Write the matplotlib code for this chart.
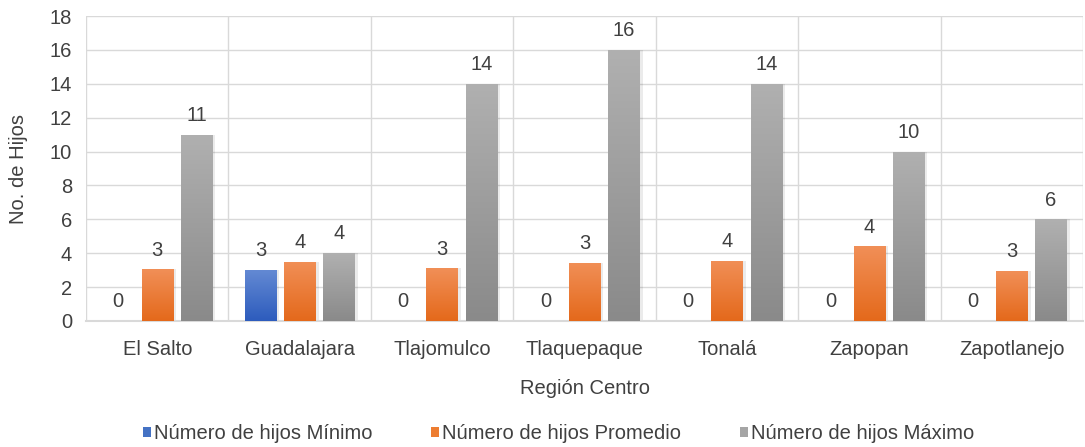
import matplotlib.pyplot as plt
import numpy as np
from matplotlib.colors import LinearSegmentedColormap

plt.rcParams['font.family'] = ['Liberation Sans', 'DejaVu Sans']

regiones = ["El Salto", "Guadalajara", "Tlajomulco", "Tlaquepaque", "Tonalá", "Zapopan", "Zapotlanejo"]
minimo = [0, 3, 0, 0, 0, 0, 0]
promedio = [3.05, 3.5, 3.1, 3.45, 3.55, 4.4, 2.95]
maximo = [11, 4, 14, 16, 14, 10, 6]
series_names = ["Número de hijos Mínimo", "Número de hijos Promedio", "Número de hijos Máximo"]

# gradient top -> bottom for each series
grad = [("#6389d3", "#2d5cbd"), ("#f18f57", "#e4691b"), ("#b0b0b0", "#8a8a8a")]
solid = ["#4472c4", "#ed7d31", "#a5a5a5"]

fig = plt.figure(figsize=(10.85, 4.47), dpi=100)
ax = fig.add_axes([0.0793, 0.282, 0.919, 0.682])

x = np.arange(len(regiones))
width = 0.22
offsets = [-0.275, 0, 0.275]
text_c = "#404040"
fs = 14.5

for vals, off, (c_top, c_bot), sc, name in zip([minimo, promedio, maximo], offsets, grad, solid, series_names):
    bars = ax.bar(x + off, vals, width, color=sc, label=name, zorder=3)
    cmap = LinearSegmentedColormap.from_list("g", [c_bot, c_top])
    for b, v in zip(bars, vals):
        if v > 0:
            bx, by = b.get_x(), b.get_y()
            bw, bh = b.get_width(), b.get_height()
            # soft shadow
            ax.bar(bx + bw / 2 + 0.012, bh, bw + 0.02, color="#000000", alpha=0.08, zorder=2)
            img = ax.imshow(np.linspace(0, 1, 100).reshape(-1, 1), cmap=cmap, aspect="auto",
                            extent=[bx, bx + bw, by, by + bh], origin="lower", zorder=4)
            img.set_clip_path(b)
        ax.annotate(f"{v:.0f}", (b.get_x() + b.get_width() / 2, v), xytext=(0, 7),
                    textcoords="offset points", ha="center", va="bottom",
                    fontsize=fs, color=text_c, zorder=5)

ax.set_xlim(-0.5, len(regiones) - 0.5)
ax.set_ylim(0, 18)
ax.set_yticks(np.arange(0, 19, 2))
ax.set_xticks(x)
ax.set_xticklabels(regiones)
ax.set_xticks(np.arange(-0.5, len(regiones), 1), minor=True)
ax.grid(axis="y", color="#d9d9d9", linewidth=1, zorder=0)
ax.grid(axis="x", which="minor", color="#d9d9d9", linewidth=1, zorder=0)
ax.tick_params(axis="both", which="both", length=0, labelsize=fs, colors=text_c)
ax.tick_params(axis="x", pad=14)
ax.tick_params(axis="y", pad=10)
for s in ["top", "right", "left"]:
    ax.spines[s].set_visible(False)
ax.spines["bottom"].set_color("#d9d9d9")
ax.spines["bottom"].set_linewidth(1.5)

ax.set_ylabel("No. de Hijos", fontsize=fs, color=text_c, labelpad=16)
ax.set_xlabel("Región Centro", fontsize=fs, color=text_c, labelpad=14)

leg = fig.legend(loc="lower center", bbox_to_anchor=(0.515, -0.032), ncol=3, frameon=False,
                 fontsize=fs, handlelength=0.4, handleheight=0.45, handletextpad=0.15,
                 columnspacing=2.9, labelcolor=text_c)

fig.savefig("out.png", dpi=100)
